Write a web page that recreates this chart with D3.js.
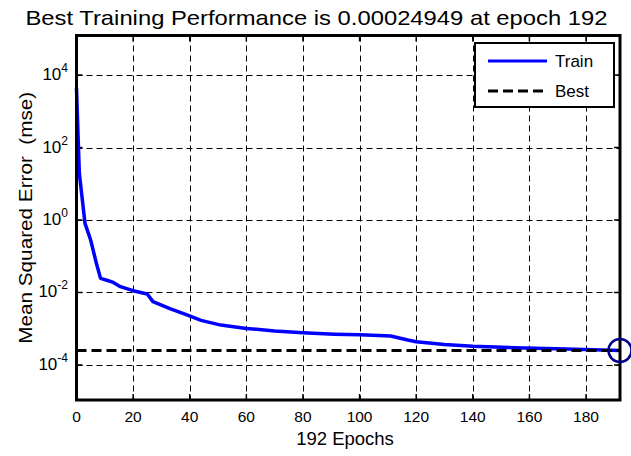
<!DOCTYPE html>
<html>
<head>
<meta charset="utf-8">
<script src="https://cdn.jsdelivr.net/npm/d3@7.9.0/dist/d3.min.js"></script>
<style>
  body { margin: 0; background: #fff; }
  svg { display: block; font-family: "Liberation Sans", Arial, Helvetica, sans-serif; }
</style>
</head>
<body>
<div id="chart"></div>
<script>
// data
const epochs = [0, 1, 3, 5, 7, 8.5, 11, 13, 15.5, 20, 25, 27, 33, 39, 44, 51, 60, 70, 80, 91, 100, 111, 117, 120, 130, 140, 155, 173, 192];
const trainPerf = [4300, 19.5, 0.81, 0.28, 0.065, 0.0245, 0.0214, 0.019, 0.0145, 0.0112, 0.0091, 0.0056, 0.0036,
    0.0024, 0.0017, 0.00126, 0.00102, 0.00087, 0.00078, 0.00071, 0.00068, 0.00063, 0.00049, 0.00044,
    0.00037, 0.00033, 0.0003, 0.000275, 0.00024949];
const bestEpoch = 192;
const bestPerf = 0.00024949;
const xTicks = [0, 20, 40, 60, 80, 100, 120, 140, 160, 180];
const yTickExps = [-4, -2, 0, 2, 4];
const xDomain = [0, 192];
const yDomain = [Math.pow(10, -4.966), Math.pow(10, 5.09)];

const width = 631;
const height = 456;
const margin = { top: 35.5, right: 11, bottom: 56, left: 76.5 };

const svg = d3.select('#chart')
    .append('svg')
    .attr('width', width)
    .attr('height', height);

const x = d3.scaleLinear().domain(xDomain).range([margin.left, width - margin.right]);
const y = d3.scaleLog().domain(yDomain).range([height - margin.bottom, margin.top]);

const pLeft = margin.left, pRight = width - margin.right;
const pTop = margin.top, pBottom = height - margin.bottom;

// grid
const grid = svg.append('g').attr('class', 'grid')
    .attr('stroke', '#000').attr('stroke-width', 1).attr('stroke-dasharray', '6,4');
grid.selectAll('line.gx')
    .data(xTicks.slice(1))
    .enter().append('line')
    .attr('x1', d => Math.round(x(d)) + 0.5).attr('x2', d => Math.round(x(d)) + 0.5)
    .attr('y1', pTop).attr('y2', pBottom);
grid.selectAll('line.gy')
    .data(yTickExps)
    .enter().append('line')
    .attr('y1', d => Math.round(y(Math.pow(10, d))) + 0.5).attr('y2', d => Math.round(y(Math.pow(10, d))) + 0.5)
    .attr('x1', pLeft).attr('x2', pRight);

// inward ticks on all four sides
const ticks = svg.append('g').attr('stroke', '#000').attr('stroke-width', 1.5);
xTicks.forEach(t => {
    ticks.append('line').attr('x1', x(t)).attr('x2', x(t)).attr('y1', pBottom).attr('y2', pBottom - 6);
    ticks.append('line').attr('x1', x(t)).attr('x2', x(t)).attr('y1', pTop).attr('y2', pTop + 6);
});
yTickExps.forEach(e => {
    const yy = y(Math.pow(10, e));
    ticks.append('line').attr('x1', pLeft).attr('x2', pLeft + 6).attr('y1', yy).attr('y2', yy);
    ticks.append('line').attr('x1', pRight).attr('x2', pRight - 6).attr('y1', yy).attr('y2', yy);
});

// train curve
const line = d3.line()
    .x((d, i) => x(epochs[i]))
    .y(d => y(d));

svg.append('path')
    .datum(trainPerf)
    .attr('fill', 'none')
    .attr('stroke', '#0000ff')
    .attr('stroke-width', 3.5)
    .attr('stroke-linejoin', 'round')
    .attr('d', line);

// best line
svg.append('line')
    .attr('x1', x(xDomain[0])).attr('x2', x(xDomain[1]))
    .attr('y1', y(bestPerf)).attr('y2', y(bestPerf))
    .attr('stroke', '#000')
    .attr('stroke-width', 3)
    .attr('stroke-dasharray', '10,5');

// axes box
svg.append('rect')
    .attr('x', pLeft).attr('y', pTop)
    .attr('width', pRight - pLeft).attr('height', pBottom - pTop)
    .attr('fill', 'none')
    .attr('stroke', '#000')
    .attr('stroke-width', 3);

// best marker
svg.append('circle')
    .attr('cx', x(bestEpoch)).attr('cy', y(bestPerf))
    .attr('r', 11.5)
    .attr('fill', 'none')
    .attr('stroke', '#00008b')
    .attr('stroke-width', 2.5);

// tick labels
svg.append('g').selectAll('text')
    .data(xTicks)
    .enter().append('text')
    .attr('x', d => x(d))
    .attr('y', 422)
    .attr('text-anchor', 'middle')
    .attr('font-size', '15.5px')
    .text(d => d);

const yLab = svg.append('g').selectAll('text')
    .data(yTickExps)
    .enter().append('text')
    .attr('x', 68)
    .attr('y', d => y(Math.pow(10, d)) + 5)
    .attr('text-anchor', 'end')
    .attr('font-size', '17px');
yLab.append('tspan').text('10');
yLab.append('tspan')
    .attr('dy', -8)
    .attr('font-size', '12px')
    .text(d => d);

// titles
svg.append('text')
    .attr('x', 316.5)
    .attr('y', 25)
    .attr('text-anchor', 'middle')
    .attr('font-size', '21px')
    .attr('textLength', 582)
    .attr('lengthAdjust', 'spacingAndGlyphs')
    .text('Best Training Performance is 0.00024949 at epoch 192');

svg.append('text')
    .attr('x', 345)
    .attr('y', 445)
    .attr('text-anchor', 'middle')
    .attr('font-size', '18.5px')
    .text('192 Epochs');

svg.append('text')
    .attr('transform', `translate(32, ${(pTop + pBottom) / 2}) rotate(-90)`)
    .attr('text-anchor', 'middle')
    .attr('font-size', '19px')
    .attr('textLength', 252)
    .attr('lengthAdjust', 'spacingAndGlyphs')
    .style('white-space', 'pre')
    .text('Mean Squared Error  (mse)');

// legend
const legend = svg.append('g').attr('class', 'legend');
legend.append('rect')
    .attr('x', 475).attr('y', 43)
    .attr('width', 139).attr('height', 64)
    .attr('fill', '#fff')
    .attr('stroke', '#000')
    .attr('stroke-width', 2);

const legendItems = [
    { label: 'Train', color: '#0000ff', dash: null },
    { label: 'Best', color: '#000', dash: '10,5' }
];
const item = legend.selectAll('.legend-item')
    .data(legendItems)
    .enter().append('g')
    .attr('class', 'legend-item')
    .attr('transform', (d, i) => `translate(0, ${61 + i * 30})`);
item.append('line')
    .attr('x1', 488).attr('x2', 547)
    .attr('stroke', d => d.color)
    .attr('stroke-width', 3)
    .attr('stroke-dasharray', d => d.dash);
item.append('text')
    .attr('x', 555)
    .attr('y', 6)
    .attr('font-size', '17px')
    .text(d => d.label);
</script>
</body>
</html>
